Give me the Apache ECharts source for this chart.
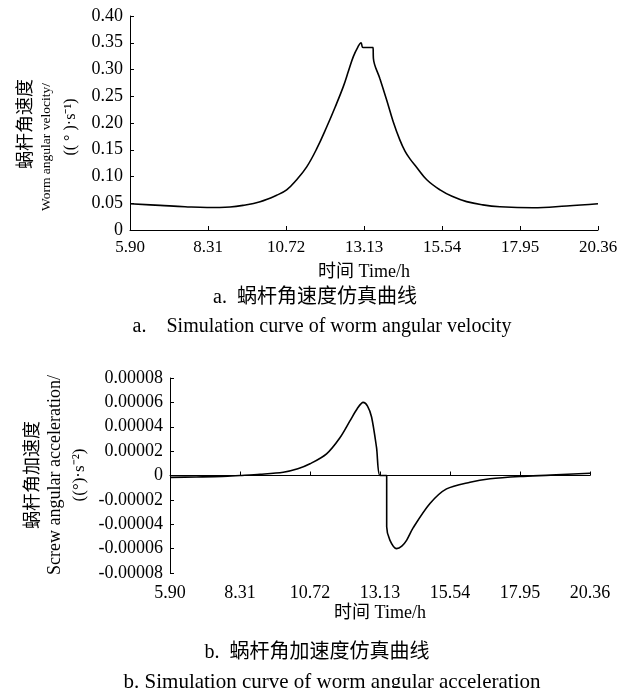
<!DOCTYPE html>
<html>
<head>
<meta charset="utf-8">
<script src="https://cdn.jsdelivr.net/npm/echarts@6/dist/echarts.min.js"></script>
<style>
  html, body { margin: 0; padding: 0; background: #fff; }
  #chart { width: 634px; height: 688px; }
</style>
</head>
<body>
<div id="chart"></div>
<script>
// time ticks (h)
const timeTicks = [5.90, 8.31, 10.72, 13.13, 15.54, 17.95, 20.36];

// a. worm angular velocity, (°)/s
const velTime = [5.90, 6.83, 7.60, 8.28, 8.99, 9.39, 9.92, 10.43, 10.74, 11.05, 11.36, 11.67, 11.98,
  12.24, 12.49, 12.65, 12.80, 12.94, 13.04, 13.10, 13.41, 13.42, 13.62, 13.83, 14.03, 14.24, 14.40, 14.55,
  14.76, 15.07, 15.48, 15.85, 16.30, 16.80, 17.33, 18.35, 19.39, 20.36];
const velocity = [0.049, 0.046, 0.0435, 0.042, 0.043, 0.046, 0.053, 0.065, 0.075, 0.094, 0.118, 0.152, 0.193,
  0.230, 0.268, 0.297, 0.324, 0.342, 0.350, 0.341, 0.341, 0.321, 0.283, 0.243, 0.203, 0.168, 0.147, 0.133,
  0.117, 0.094, 0.075, 0.063, 0.053, 0.047, 0.0436, 0.0417, 0.045, 0.049];

// b. worm angular acceleration, (°)/s²
const accTime = [5.90, 6.80, 7.70, 8.31, 9.00, 9.80, 10.30, 10.72, 11.29, 11.75, 12.10, 12.35, 12.55, 12.70,
  12.84, 13.01, 13.13, 13.36, 13.36, 13.47, 13.70, 13.88, 14.05, 14.27, 14.85, 15.42, 16.23, 16.92,
  17.95, 19.00, 20.36];
const acceleration = [-1.5e-6, -1.2e-6, -0.8e-6, 0, 1.0e-6, 2.7e-6, 5.5e-6, 9.6e-6, 1.78e-5, 3.1e-5, 4.5e-5, 5.5e-5, 6.0e-5, 5.7e-5,
  4.8e-5, 2.3e-5, 0, 0, -4.2e-5, -5.3e-5, -6.0e-5, -5.8e-5, -5.3e-5, -4.3e-5, -2.3e-5, -1.1e-5, -5.5e-6, -2.7e-6,
  -0.8e-6, 0.3e-6, 1.9e-6];

const FONT = '"Liberation Serif", "Times New Roman", "Noto Sans CJK SC", serif';

const toPairs = (xs, ys) => xs.map((x, i) => [x, ys[i]]);

function timeAxis(grid, extra) {
  return Object.assign({
    type: 'value',
    gridIndex: grid,
    min: timeTicks[0],
    max: timeTicks[timeTicks.length - 1],
    interval: 2.41,
    splitLine: { show: false },
    axisLine: { lineStyle: { color: '#000', width: 1 } },
    axisTick: { inside: true, length: 4, lineStyle: { color: '#000' } },
    axisLabel: {
      color: '#000', fontFamily: FONT, fontSize: 17, margin: 9,
      formatter: (v) => v.toFixed(2),
    },
  }, extra);
}

function valueAxis(grid, min, max, step, digits) {
  return {
    type: 'value', gridIndex: grid, min, max, interval: step,
    splitLine: { show: false },
    axisLine: { show: true, onZero: false, lineStyle: { color: '#000', width: 1 } },
    axisTick: { show: true, inside: true, length: 4, lineStyle: { color: '#000' } },
    axisLabel: {
      color: '#000', fontFamily: FONT, fontSize: 18, margin: 7,
      formatter: (v) => (Math.abs(v) < 1e-12 ? '0' : v.toFixed(digits)),
    },
  };
}

function rotText(x, y, text, size) {
  return {
    type: 'text', x, y, rotation: Math.PI / 2,
    style: { text, font: size + 'px ' + FONT, fill: '#000', align: 'center', verticalAlign: 'middle' },
  };
}
function capText(x, y, text, size) {
  return {
    type: 'text', x, y,
    style: { text, font: size + 'px ' + FONT, fill: '#000', align: 'center', verticalAlign: 'middle' },
  };
}

const chart = echarts.init(document.getElementById('chart'));
chart.setOption({
  backgroundColor: '#fff',
  animation: false,
  grid: [
    { left: 130, top: 16, width: 468, height: 214 },
    { left: 170, top: 378, width: 420, height: 195 },
  ],
  xAxis: [
    timeAxis(0, {
      name: '时间 Time/h', nameLocation: 'middle', nameGap: 33,
      nameTextStyle: { color: '#000', fontFamily: FONT, fontSize: 18 },
    }),
    // zero line with ticks
    timeAxis(1, { axisLine: { onZero: true, lineStyle: { color: '#000', width: 1 } }, axisLabel: { show: false } }),
    // labels at the bottom
    timeAxis(1, {
      position: 'bottom',
      axisLine: { show: false, onZero: false },
      axisTick: { show: false },
      axisLabel: {
        color: '#000', fontFamily: FONT, fontSize: 18, margin: 11,
        formatter: (v) => v.toFixed(2),
      },
      name: '时间 Time/h', nameLocation: 'middle', nameGap: 31,
      nameTextStyle: { color: '#000', fontFamily: FONT, fontSize: 18 },
    }),
  ],
  yAxis: [
    valueAxis(0, 0, 0.4, 0.05, 2),
    valueAxis(1, -0.00008, 0.00008, 0.00002, 5),
  ],
  series: [
    {
      type: 'line', xAxisIndex: 0, yAxisIndex: 0,
      data: toPairs(velTime, velocity),
      showSymbol: false, smooth: 0.4,
      lineStyle: { color: '#000', width: 1.6 },
    },
    {
      type: 'line', xAxisIndex: 1, yAxisIndex: 1,
      data: toPairs(accTime, acceleration),
      showSymbol: false, smooth: 0.3,
      lineStyle: { color: '#000', width: 1.6 },
    },
  ],
  graphic: [
    rotText(26, 124, '蜗杆角速度', 18),
    rotText(46, 147, 'Worm angular velocity/', 13.5),
    rotText(71, 127, '(( ° )·s⁻¹)', 16),
    capText(315, 298, 'a.  蜗杆角速度仿真曲线', 20),
    capText(322, 327, 'a.    Simulation curve of worm angular velocity', 20),
    rotText(33, 475, '蜗杆角加速度', 18),
    rotText(55, 475, 'Screw angular acceleration/', 18),
    rotText(80, 475, '((°)·s⁻²)', 17),
    capText(317, 653, 'b.  蜗杆角加速度仿真曲线', 20),
    capText(332, 682, 'b. Simulation curve of worm angular acceleration', 21),
  ],
});
</script>
</body>
</html>
